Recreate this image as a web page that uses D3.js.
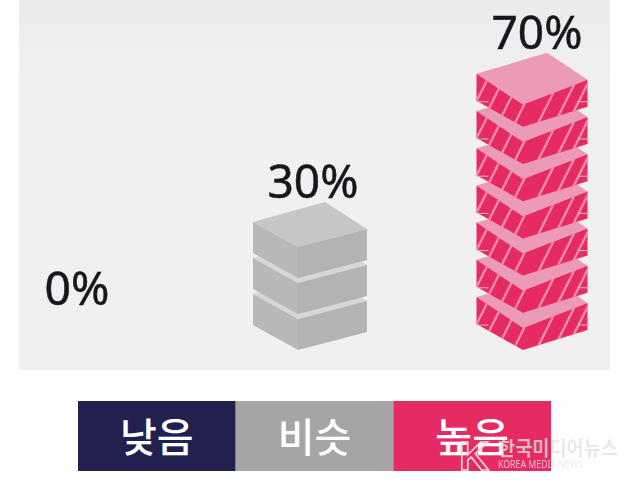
<!DOCTYPE html>
<html lang="ko">
<head>
<meta charset="utf-8">
<title>낮음 비슷 높음</title>
<script src="https://d3js.org/d3.v7.min.js"></script>
<style>
    html, body { margin: 0; padding: 0; background: #fff; }
    svg { display: block; }
    text { font-family: "Noto Sans", "Noto Sans CJK KR", sans-serif; }
</style>
</head>
<body>
<svg id="chart" width="630" height="483"></svg>
<script>
var categories = ["낮음", "비슷", "높음"];
var values = [0, 30, 70];
var valueLabels = ["0%", "30%", "70%"];
var unitPerBlock = 10;

var width = 630, height = 483;
var svg = d3.select("#chart").attr("viewBox", [0, 0, width, height]);
var defs = svg.append("defs");

var fade = defs.append("linearGradient").attr("id", "panelFade").attr("x2", 0).attr("y2", 1);
fade.append("stop").attr("offset", 0).attr("stop-color", "#ebebeb");
fade.append("stop").attr("offset", 0.2).attr("stop-color", "#f0f0f0");
defs.append("filter").attr("id", "soft").append("feGaussianBlur").attr("stdDeviation", 0.7);
defs.append("filter").attr("id", "softText").append("feGaussianBlur").attr("stdDeviation", 0.45);

svg.append("rect").attr("x", 19).attr("y", 0).attr("width", 591).attr("height", 370)
    .attr("fill", "url(#panelFade)");

// scales: column centre, stack level per column, legend cells
var columnX = d3.scaleOrdinal().domain(categories).range([87, 310, 532]);
var labelX = d3.scaleOrdinal().domain(categories).range([77, 313, 537]);
var levelY = {
    "비슷": d3.scaleLinear().domain([0, 70]).range([350, 350 - 7 * 36]),
    "높음": d3.scaleLinear().domain([0, 70]).range([350, 350 - 7 * 37.2])
};
var legendX = d3.scaleBand().domain(categories).range([78, 551]);
var palette = d3.scaleOrdinal().domain(categories).range(["#22204f", "#a5a5a5", "#e62a62"]);

// box shape, as offsets from the foot of the front corner
var blockStyle = {
    "비슷": { hw: 57, frontX: -12, apexX: 15, frontH: 31, leftDrop: 25, rightDrop: 18, sideH: 31, apexH: 76,
        left: "#b8b8b8", right: "#b3b3b3", top: "#c6c6c6", strip: "#d6d6d6" },
    "높음": { hw: 55.5, frontX: -9, apexX: 15, frontH: 22, leftDrop: 26, rightDrop: 20, sideH: 27, apexH: 74,
        left: "#e62a62", right: "#e62a62", top: "#eb9ab8", strip: "#eb9ab8", stripe: "#f08cae",
        leftStripes: [0.1, 0.37, 0.65, 0.93], rightStripes: [0.28, 0.64, 0.92] }
};

var stacks = svg.append("g").attr("filter", "url(#soft)");
var line = d3.line();

categories.forEach(function (cat, ci) {
    var n = values[ci] / unitPerBlock;
    var st = blockStyle[cat];
    if (!st) return;
    var cx = columnX(cat), fx = cx + st.frontX;
    var lx = cx - st.hw, rx = cx + st.hw;

    for (var i = 0; i < n; i++) {
        var by = levelY[cat](i * unitPerBlock);
        var g = stacks.append("g");
        var left = [[lx, by - st.leftDrop - st.sideH], [fx, by - st.frontH], [fx, by], [lx, by - st.leftDrop]];
        var right = [[fx, by - st.frontH], [rx, by - st.rightDrop - st.sideH], [rx, by - st.rightDrop], [fx, by]];
        var top = [[lx, by - st.leftDrop - st.sideH], [cx + st.apexX, by - st.apexH], [rx, by - st.rightDrop - st.sideH], [fx, by - st.frontH]];

        g.append("path").attr("d", line(top) + "Z").attr("fill", i === n - 1 ? st.top : st.strip);
        g.append("path").attr("d", line(left) + "Z").attr("fill", st.left);
        g.append("path").attr("d", line(right) + "Z").attr("fill", st.right);

        if (st.stripe) {
            var clipId = "clip" + ci + "-" + i;
            var clip = defs.append("clipPath").attr("id", clipId);
            clip.append("path").attr("d", line(left) + "Z");
            clip.append("path").attr("d", line(right) + "Z");
            var sg = g.append("g").attr("clip-path", "url(#" + clipId + ")")
                .attr("stroke", st.stripe).attr("stroke-width", 2.4).attr("fill", "none");
            var midLeftY = by - st.leftDrop / 2 - st.frontH / 2 - st.sideH / 2;
            st.leftStripes.forEach(function (f) {
                var sx = lx + f * (fx - lx);
                var sy = midLeftY + f * st.leftDrop;
                sg.append("line").attr("x1", sx + 12).attr("y1", sy - 24).attr("x2", sx - 12).attr("y2", sy + 24);
            });
            st.rightStripes.forEach(function (f) {
                var sx = fx + f * (rx - fx);
                var sy = by - st.frontH / 2 - f * (st.rightDrop + st.sideH - st.frontH / 2) + st.sideH / 2 - 2;
                sg.append("line").attr("x1", sx + 14).attr("y1", sy - 28).attr("x2", sx - 14).attr("y2", sy + 28);
            });
            // thin grey ticks at each block's side corners
            stacks.append("line").attr("x1", lx).attr("x2", lx + 12).attr("y1", by - st.leftDrop + 1).attr("y2", by - st.leftDrop + 1)
                .attr("stroke", "#c4c4c4");
            stacks.append("line").attr("x1", rx - 10).attr("x2", rx + 2).attr("y1", by - st.leftDrop + 1).attr("y2", by - st.leftDrop + 1)
                .attr("stroke", "#c4c4c4");
        }
    }
});

// value labels sit just above the top of each stack
function labelY(cat, v) {
    if (v === 0) return 305;
    return levelY[cat](v - unitPerBlock) - blockStyle[cat].apexH - 4;
}
svg.append("g").attr("filter", "url(#softText)").selectAll("text")
    .data(categories)
    .join("text")
    .attr("x", function (d) { return labelX(d); })
    .attr("y", function (d, i) { return labelY(d, values[i]); })
    .attr("text-anchor", "middle")
    .attr("font-size", 46)
    .attr("fill", "#16161c")
    .attr("stroke", "#16161c")
    .attr("stroke-width", 0.5)
    .attr("textLength", function (d, i) { return values[i] === 0 ? 65 : 91; })
    .attr("lengthAdjust", "spacingAndGlyphs")
    .text(function (d, i) { return valueLabels[i]; });

// legend
var legend = svg.append("g");
legend.selectAll("rect").data(categories).join("rect")
    .attr("x", function (d) { return legendX(d); })
    .attr("y", 401)
    .attr("width", legendX.bandwidth())
    .attr("height", 70)
    .attr("fill", function (d) { return palette(d); });
legend.selectAll("text").data(categories).join("text")
    .attr("x", function (d) { return legendX(d) + legendX.bandwidth() / 2; })
    .attr("y", 452)
    .attr("text-anchor", "middle")
    .attr("font-size", 40)
    .attr("font-weight", 500)
    .attr("fill", "#fff")
    .style("font-family", '"Noto Sans CJK KR", sans-serif')
    .text(function (d) { return d; });

// watermark
var mark = svg.append("g").attr("filter", "url(#softText)");
mark.append("text").attr("x", 459).attr("y", 470).attr("font-size", 40).attr("font-weight", 700)
    .attr("textLength", 30).attr("lengthAdjust", "spacingAndGlyphs")
    .attr("fill", "none").attr("stroke", "#f0d4dc").attr("stroke-width", 1.6)
    .style("font-family", '"Liberation Sans", sans-serif').text("K");
mark.append("text").attr("x", 498).attr("y", 456).attr("font-size", 20).attr("font-weight", 700)
    .attr("fill", "#e2e2e2").attr("fill-opacity", 0.75)
    .attr("textLength", 120).attr("lengthAdjust", "spacingAndGlyphs")
    .style("font-family", '"Noto Sans CJK KR", sans-serif').text("한국미디어뉴스");
mark.append("text").attr("x", 498).attr("y", 468).attr("font-size", 10)
    .attr("fill", "#e6e6e6").attr("fill-opacity", 0.8)
    .attr("textLength", 85).attr("lengthAdjust", "spacingAndGlyphs").text("KOREA MEDIA NEWS");
</script>
</body>
</html>
